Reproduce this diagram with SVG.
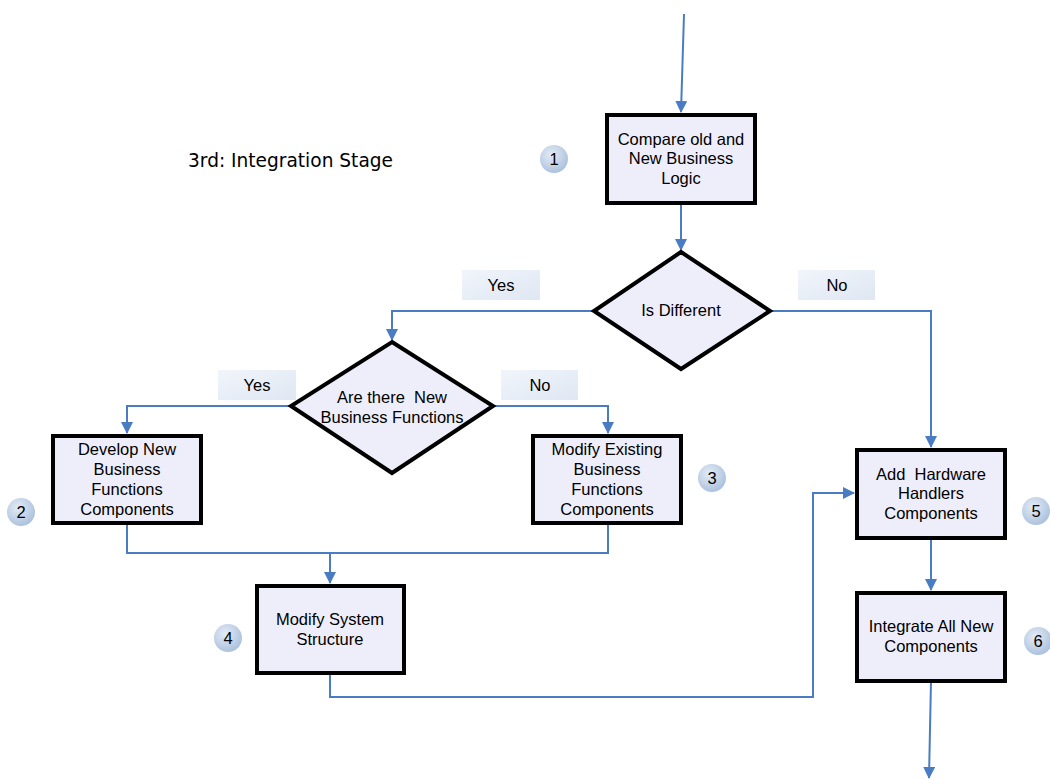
<svg xmlns="http://www.w3.org/2000/svg" width="1050" height="780" viewBox="0 0 1050 780">
  <defs>
    <marker id="arrow" viewBox="0 0 12 12" refX="11" refY="6" markerWidth="12" markerHeight="12" markerUnits="userSpaceOnUse" orient="auto">
      <path d="M0,0 L12,6 L0,12 Z" fill="#4a7cc4"/>
    </marker>
    <radialGradient id="badge" cx="0.4" cy="0.35" r="0.7">
      <stop offset="0" stop-color="#e4ecf6"/>
      <stop offset="1" stop-color="#a9bfdc"/>
    </radialGradient>
    <linearGradient id="tag" x1="0" y1="0" x2="1" y2="1">
      <stop offset="0" stop-color="#f1f5fb"/>
      <stop offset="1" stop-color="#dfe7f3"/>
    </linearGradient>
  </defs>
  <style>
    .box { fill: #eeeefb; stroke: #000; stroke-width: 4; }
    .lbl { font-family: "Liberation Sans", Arial, sans-serif; font-size: 16.5px; fill: #000; text-anchor: middle; white-space: pre; }
    .wire { fill: none; stroke: #4a7cc4; stroke-width: 2; }
    .tag { fill: url(#tag); }
    .badge { fill: url(#badge); }
    .num { font-family: "Liberation Sans", Arial, sans-serif; font-size: 16.5px; fill: #000; text-anchor: middle; }
    .title { font-family: "DejaVu Sans", Verdana, sans-serif; font-size: 19px; fill: #000; }
  </style>
  <rect width="1050" height="780" fill="#fff"/>

  <text class="title" x="188" y="167" textLength="205" lengthAdjust="spacingAndGlyphs">3rd: Integration Stage</text>

  <!-- branch labels -->
  <g id="labels">
    <rect class="tag" x="462" y="270" width="78" height="30"/>
    <text class="lbl" x="501" y="291">Yes</text>
    <rect class="tag" x="798" y="270" width="77" height="30"/>
    <text class="lbl" x="837" y="291">No</text>
    <rect class="tag" x="218" y="370" width="78" height="30"/>
    <text class="lbl" x="257" y="391">Yes</text>
    <rect class="tag" x="501" y="370" width="77" height="30"/>
    <text class="lbl" x="540" y="391">No</text>
  </g>

  <!-- connectors -->
  <g id="connectors">
    <path class="wire" d="M684,14 L681,112" marker-end="url(#arrow)"/>
    <path class="wire" d="M681,203 L681,250" marker-end="url(#arrow)"/>
    <path class="wire" d="M594,311 L392,311 L392,340" marker-end="url(#arrow)"/>
    <path class="wire" d="M770,311 L931,311 L931,447" marker-end="url(#arrow)"/>
    <path class="wire" d="M291,406 L127,406 L127,433" marker-end="url(#arrow)"/>
    <path class="wire" d="M493,406 L608,406 L608,433" marker-end="url(#arrow)"/>
    <path class="wire" d="M127,523 L127,553 L608,553 L608,523"/>
    <path class="wire" d="M330,553 L330,583" marker-end="url(#arrow)"/>
    <path class="wire" d="M330,673 L330,697 L813,697 L813,493 L854,493" marker-end="url(#arrow)"/>
    <path class="wire" d="M931,538 L931,590" marker-end="url(#arrow)"/>
    <path class="wire" d="M931,681 L929,778" marker-end="url(#arrow)"/>
  </g>

  <g id="n1">
    <rect class="box" x="607" y="115" width="148" height="88"/>
    <text class="lbl" x="681" y="145">Compare old and</text>
    <text class="lbl" x="681" y="164">New Business</text>
    <text class="lbl" x="681" y="184">Logic</text>
  </g>
  <g id="d1">
    <polygon class="box" points="681,252 770,311 681,369 594,311"/>
    <text class="lbl" x="681" y="316">Is Different</text>
  </g>
  <g id="d2">
    <polygon class="box" points="392,342 493,406 392,473 291,406"/>
    <text class="lbl" x="392" y="403">Are there  New</text>
    <text class="lbl" x="392" y="423">Business Functions</text>
  </g>
  <g id="n2">
    <rect class="box" x="53" y="436" width="148" height="87"/>
    <text class="lbl" x="127" y="455">Develop New</text>
    <text class="lbl" x="127" y="475">Business</text>
    <text class="lbl" x="127" y="495">Functions</text>
    <text class="lbl" x="127" y="515">Components</text>
  </g>
  <g id="n3">
    <rect class="box" x="533" y="436" width="148" height="87"/>
    <text class="lbl" x="607" y="455">Modify Existing</text>
    <text class="lbl" x="607" y="475">Business</text>
    <text class="lbl" x="607" y="495">Functions</text>
    <text class="lbl" x="607" y="515">Components</text>
  </g>
  <g id="n4">
    <rect class="box" x="257" y="586" width="147" height="87"/>
    <text class="lbl" x="330" y="625">Modify System</text>
    <text class="lbl" x="330" y="645">Structure</text>
  </g>
  <g id="n5">
    <rect class="box" x="857" y="450" width="148" height="88"/>
    <text class="lbl" x="931" y="480">Add  Hardware</text>
    <text class="lbl" x="931" y="499">Handlers</text>
    <text class="lbl" x="931" y="519">Components</text>
  </g>
  <g id="n6">
    <rect class="box" x="857" y="593" width="148" height="88"/>
    <text class="lbl" x="931" y="632">Integrate All New</text>
    <text class="lbl" x="931" y="652">Components</text>
  </g>

  <!-- step badges -->
  <g id="b1"><circle class="badge" cx="554" cy="159" r="14"/><text class="num" x="554" y="165">1</text></g>
  <g id="b2"><circle class="badge" cx="21" cy="512" r="14"/><text class="num" x="21" y="518">2</text></g>
  <g id="b3"><circle class="badge" cx="712" cy="478" r="14"/><text class="num" x="712" y="484">3</text></g>
  <g id="b4"><circle class="badge" cx="228" cy="638" r="14"/><text class="num" x="228" y="644">4</text></g>
  <g id="b5"><circle class="badge" cx="1036" cy="511" r="14"/><text class="num" x="1036" y="517">5</text></g>
  <g id="b6"><circle class="badge" cx="1038" cy="641" r="14"/><text class="num" x="1038" y="647">6</text></g>
</svg>
